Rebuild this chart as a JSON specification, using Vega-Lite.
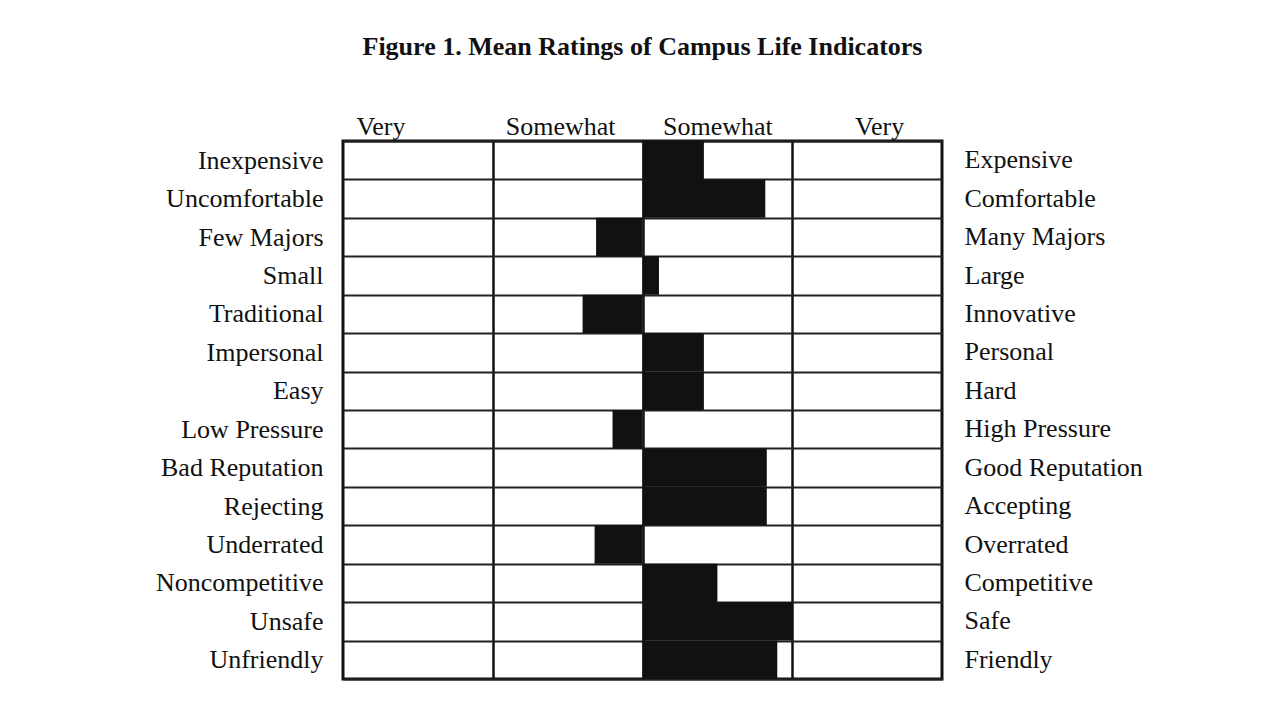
{
  "$schema": "https://vega.github.io/schema/vega-lite/v6.json",
  "width": 599,
  "height": 538,
  "autosize": {"type": "none"},
  "padding": {"left": 343, "top": 141, "right": 319, "bottom": 44},
  "background": "white",
  "title": {
    "text": "Figure 1.  Mean Ratings of Campus Life Indicators",
    "font": "Liberation Serif",
    "fontSize": 26,
    "fontWeight": "bold",
    "color": "#111",
    "anchor": "middle",
    "offset": 53
  },
  "config": {
    "view": {"stroke": "#111", "strokeWidth": 3},
    "font": "Liberation Serif"
  },
  "data": {
    "values": [
      {"left": "Inexpensive", "right": "Expensive", "rating": 0.41},
      {"left": "Uncomfortable", "right": "Comfortable", "rating": 0.82},
      {"left": "Few Majors", "right": "Many Majors", "rating": -0.31},
      {"left": "Small", "right": "Large", "rating": 0.11},
      {"left": "Traditional", "right": "Innovative", "rating": -0.4},
      {"left": "Impersonal", "right": "Personal", "rating": 0.41},
      {"left": "Easy", "right": "Hard", "rating": 0.41},
      {"left": "Low Pressure", "right": "High Pressure", "rating": -0.2},
      {"left": "Bad Reputation", "right": "Good Reputation", "rating": 0.83},
      {"left": "Rejecting", "right": "Accepting", "rating": 0.83},
      {"left": "Underrated", "right": "Overrated", "rating": -0.32},
      {"left": "Noncompetitive", "right": "Competitive", "rating": 0.5},
      {"left": "Unsafe", "right": "Safe", "rating": 1.0},
      {"left": "Unfriendly", "right": "Friendly", "rating": 0.9}
    ]
  },
  "layer": [
    {
      "mark": {"type": "bar", "color": "#111"},
      "encoding": {
        "y": {
          "field": "left",
          "type": "nominal",
          "sort": null,
          "scale": {"paddingInner": 0, "paddingOuter": 0},
          "axis": {
            "title": null,
            "orient": "left",
            "ticks": false,
            "domain": false,
            "labelPadding": 20,
            "labelFont": "Liberation Serif",
            "labelFontSize": 26,
            "labelColor": "#111",
            "labelLimit": 400,
            "grid": true,
            "tickBand": "extent",
            "gridColor": "#222",
            "gridWidth": 2,
            "gridOpacity": 1
          }
        },
        "x": {
          "field": "rating",
          "type": "quantitative",
          "scale": {"domain": [-2, 2], "nice": false},
          "axis": {
            "orient": "top",
            "title": null,
            "values": [-1.75, -0.55, 0.5, 1.58],
            "labelExpr": "datum.value < -1 ? 'Very' : (datum.value < 0 ? 'Somewhat' : (datum.value < 1 ? 'Somewhat' : 'Very'))",
            "ticks": false,
            "domain": false,
            "grid": false,
            "labelPadding": 2,
            "labelFont": "Liberation Serif",
            "labelFontSize": 26,
            "labelColor": "#111",
            "labelFlush": false,
            "labelOverlap": false
          }
        }
      }
    },
    {
      "mark": {"type": "bar", "opacity": 0},
      "encoding": {
        "y": {
          "field": "right",
          "type": "nominal",
          "sort": null,
          "scale": {"paddingInner": 0, "paddingOuter": 0},
          "axis": {
            "title": null,
            "orient": "right",
            "ticks": false,
            "domain": false,
            "grid": false,
            "labelPadding": 22,
            "labelFont": "Liberation Serif",
            "labelFontSize": 26,
            "labelColor": "#111",
            "labelLimit": 400
          }
        },
        "x": {
          "field": "rating",
          "type": "quantitative",
          "scale": {"domain": [-2, 2], "nice": false},
          "axis": {
            "orient": "bottom",
            "title": null,
            "values": [-1, 0, 1],
            "grid": true,
            "gridColor": "#111",
            "gridWidth": 2.5,
            "gridOpacity": 1,
            "labels": false,
            "ticks": false,
            "domain": false
          }
        }
      }
    }
  ],
  "resolve": {"scale": {"y": "independent"}, "axis": {"x": "independent"}}
}
